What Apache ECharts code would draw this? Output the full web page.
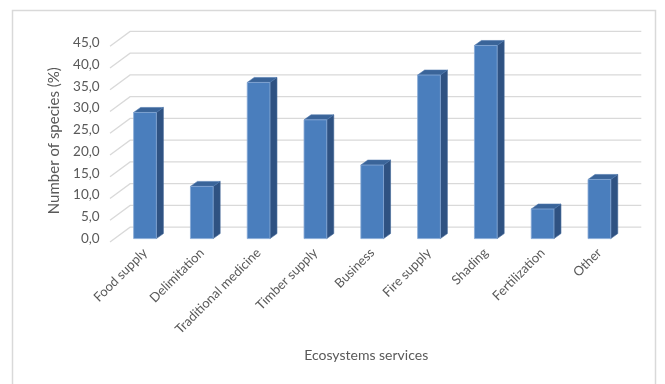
<!DOCTYPE html>
<html>
<head>
<meta charset="utf-8">
<script src="https://cdn.jsdelivr.net/npm/echarts@6/dist/echarts.min.js"></script>
<style>
  html, body { margin: 0; padding: 0; background: #ffffff; }
  #chart { width: 665px; height: 384px; }
</style>
</head>
<body>
<div id="chart"></div>
<script>
// Share of species per ecosystem service
const categories = ['Food supply', 'Delimitation', 'Traditional medicine', 'Timber supply', 'Business', 'Fire supply', 'Shading', 'Fertilization', 'Other'];
const speciesShare = [29.0, 12.0, 35.9, 27.3, 16.9, 37.6, 44.4, 6.8, 13.6];
const valueTicks = [0, 5, 10, 15, 20, 25, 30, 35, 40, 45];

// Pseudo-3D geometry (pixels)
const WALL_DX = 13.5, WALL_DY = -11.4;   // back wall relative to baseline plane
const FLOOR_DX = -6.6, FLOOR_DY = 3.3;   // front edge of the side wall
const BAR_DX = 7, BAR_DY = -5;           // bar depth
const BAR_RATIO = 0.4;

const FONT = 'Lato, "Open Sans", sans-serif';
const TEXT_COLOR = '#595959';

const chart = echarts.init(document.getElementById('chart'), null, { renderer: 'canvas' });

// Gridlines on the back wall, joined by a slanted segment on the side wall
function renderWall(params, api) {
  const cs = params.coordSys;
  const y = api.coord([0, api.value(1)])[1];
  const x0 = cs.x, x1 = cs.x + cs.width;
  return {
    type: 'polyline',
    shape: {
      points: [
        [x0 + FLOOR_DX, y + FLOOR_DY],
        [x0 + WALL_DX, y + WALL_DY],
        [x1 + WALL_DX, y + WALL_DY]
      ]
    },
    style: { fill: null, stroke: '#d9d9d9', lineWidth: 1.3 },
    silent: true
  };
}

// Box-shaped bar: front face, right side, top
function renderBar(params, api) {
  const idx = api.value(0);
  const base = api.coord([idx, 0]);
  const top = api.coord([idx, api.value(1)]);
  const band = api.size([1, 0])[0];
  const w = band * BAR_RATIO;
  const xl = base[0] - w / 2, xr = base[0] + w / 2;
  const yt = top[1], yb = base[1];
  return {
    type: 'group',
    children: [
      {
        type: 'polygon',
        shape: { points: [[xr, yt], [xr + BAR_DX, yt + BAR_DY], [xr + BAR_DX, yb + BAR_DY], [xr, yb]] },
        style: { fill: '#2f5282', stroke: '#3d6395', lineWidth: 0.6 }
      },
      {
        type: 'polygon',
        shape: { points: [[xl, yt], [xl + BAR_DX, yt + BAR_DY], [xr + BAR_DX, yt + BAR_DY], [xr, yt]] },
        style: { fill: '#3a6499', stroke: '#4d77ad', lineWidth: 0.6 }
      },
      {
        type: 'rect',
        shape: { x: xl, y: yt, width: w, height: yb - yt },
        style: { fill: '#4a7ebd', stroke: '#86a8d6', lineWidth: 0.8 }
      }
    ]
  };
}

chart.setOption({
  backgroundColor: '#ffffff',
  animation: false,
  textStyle: { fontFamily: FONT },
  graphic: [{
    type: 'rect',
    shape: { x: 12.5, y: 10.5, width: 643, height: 390 },
    style: { fill: null, stroke: '#d9d9d9', lineWidth: 1.5 },
    silent: true
  }],
  grid: { left: 116.6, right: 37.2, top: 42.85, bottom: 145.4, containLabel: false },
  xAxis: {
    type: 'category',
    data: categories,
    axisLine: { show: false },
    axisTick: { show: false },
    splitLine: { show: false },
    axisLabel: {
      interval: 0,
      rotate: 45,
      margin: 12,
      fontSize: 13,
      color: TEXT_COLOR,
      fontFamily: FONT
    },
    name: 'Ecosystems services',
    nameLocation: 'middle',
    nameGap: 110,
    nameTextStyle: { fontSize: 14, color: TEXT_COLOR, fontFamily: FONT, padding: [0, 12, 0, 0] }
  },
  yAxis: {
    type: 'value',
    min: 0,
    max: 45,
    interval: 5,
    axisLine: { show: false },
    axisTick: { show: false },
    splitLine: { show: false },
    axisLabel: {
      margin: 17,
      fontSize: 13.5,
      color: TEXT_COLOR,
      fontFamily: FONT,
      padding: [6, 0, 0, 0],
      formatter: v => v.toFixed(1).replace('.', ',')
    },
    name: 'Number of species (%)',
    nameLocation: 'middle',
    nameGap: 45,
    nameTextStyle: { fontSize: 15, color: TEXT_COLOR, fontFamily: FONT }
  },
  series: [
    {
      type: 'custom',
      name: 'wall',
      renderItem: renderWall,
      data: valueTicks.map(v => [0, v]),
      encode: { x: 0, y: 1 },
      clip: false,
      silent: true,
      z: 1
    },
    {
      type: 'custom',
      name: 'Number of species (%)',
      renderItem: renderBar,
      data: speciesShare.map((v, i) => [i, v]),
      encode: { x: 0, y: 1 },
      clip: false,
      z: 2
    }
  ]
});
</script>
</body>
</html>
